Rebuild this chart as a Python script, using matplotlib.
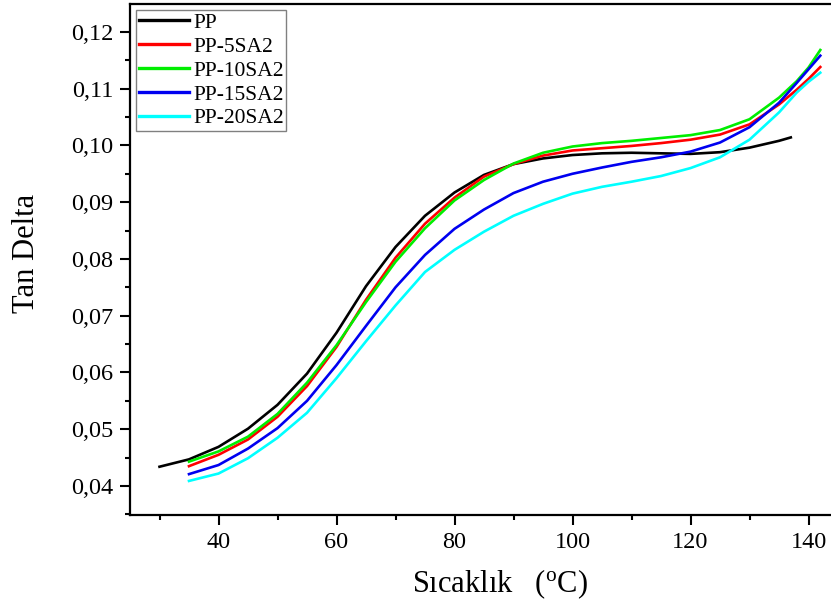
import matplotlib
matplotlib.use("Agg")
import matplotlib.pyplot as plt
from matplotlib.ticker import MultipleLocator, FuncFormatter

plt.rcParams['font.family'] = ['Liberation Serif', 'DejaVu Serif']
plt.rcParams['mathtext.fontset'] = 'custom'
plt.rcParams['mathtext.rm'] = 'Liberation Serif'

# ---- data ----
temp_pp = [30, 35, 40, 45, 50, 55, 60, 65, 70, 75, 80, 85, 90, 95, 100,
           105, 110, 115, 120, 125, 130, 135, 137]
tan_pp = [0.0434, 0.0447, 0.0469, 0.0501, 0.0543, 0.0598, 0.0670, 0.0752,
          0.0821, 0.0876, 0.0917, 0.0948, 0.0967, 0.0977, 0.0983, 0.0986,
          0.0987, 0.0986, 0.0985, 0.0988, 0.0996, 0.1008, 0.1014]

temp_sa = [35, 40, 45, 50, 55, 60, 65, 70, 75, 80, 85, 90, 95, 100, 105,
           110, 115, 120, 125, 130, 135, 138, 140, 142]
tan_5sa2 = [0.0435, 0.0455, 0.0482, 0.0522, 0.0576, 0.0645, 0.0728, 0.0802,
            0.0862, 0.0908, 0.0945, 0.0967, 0.0982, 0.0991, 0.0995, 0.0999,
            0.1004, 0.1010, 0.1019, 0.1037, 0.1072, 0.1098, 0.1117, 0.1138]
tan_10sa2 = [0.0443, 0.0461, 0.0487, 0.0527, 0.0582, 0.0648, 0.0724, 0.0795,
             0.0854, 0.0903, 0.0939, 0.0968, 0.0987, 0.0998, 0.1004, 0.1008,
             0.1013, 0.1018, 0.1027, 0.1046, 0.1084, 0.1113, 0.1137, 0.1168]
tan_15sa2 = [0.0421, 0.0437, 0.0466, 0.0502, 0.0550, 0.0613, 0.0682, 0.0750,
             0.0807, 0.0853, 0.0887, 0.0916, 0.0936, 0.0950, 0.0961, 0.0971,
             0.0979, 0.0989, 0.1005, 0.1032, 0.1075, 0.1110, 0.1134, 0.1158]
tan_20sa2 = [0.0409, 0.0422, 0.0449, 0.0485, 0.0529, 0.0590, 0.0655, 0.0718,
             0.0777, 0.0816, 0.0848, 0.0876, 0.0897, 0.0915, 0.0927, 0.0936,
             0.0946, 0.0960, 0.0979, 0.1010, 0.1058, 0.1093, 0.1112, 0.1128]

labels = ['PP', 'PP-5SA2', 'PP-10SA2', 'PP-15SA2', 'PP-20SA2']
colors = ['#000000', '#ff0000', '#00ee00', '#0000f0', '#00ffff']

fig = plt.figure(figsize=(8.31, 6.08), dpi=100)
ax = fig.add_axes([130 / 831, 93 / 608, 708 / 831, 511 / 608])

series = [(temp_pp, tan_pp), (temp_sa, tan_5sa2), (temp_sa, tan_10sa2),
          (temp_sa, tan_15sa2), (temp_sa, tan_20sa2)]
for (xs, ys), lab, col in zip(series, labels, colors):
    ax.plot(xs, ys, color=col, lw=1.9, label=lab)

ax.set_xlim(25, 145)
ax.set_ylim(0.0349, 0.1249)
ax.xaxis.set_major_locator(MultipleLocator(20))
ax.xaxis.set_minor_locator(MultipleLocator(10))
ax.yaxis.set_major_locator(MultipleLocator(0.01))
ax.yaxis.set_minor_locator(MultipleLocator(0.005))
ax.yaxis.set_major_formatter(FuncFormatter(lambda v, p: f"{v:.2f}".replace('.', ',')))

for s in ax.spines.values():
    s.set_linewidth(1.6)
ax.tick_params(which='major', direction='out', length=7, width=1.5,
               labelsize=17.5, pad=5, top=False, right=False)
ax.tick_params(which='minor', direction='out', length=3.5, width=1.5,
               top=False, right=False)

fig.text(500 / 831, 1 - 584 / 608, 'Sıcaklık   ($\\mathregular{^o}$C)',
         fontsize=22, ha='center', va='center')
fig.text(27 / 831, 1 - 253 / 608, 'Tan Delta', rotation=90,
         fontsize=22, ha='center', va='center')

leg = ax.legend(loc='upper left', fontsize=15.5, frameon=True, fancybox=False,
                edgecolor='#808080', framealpha=1, handlelength=2.35,
                handletextpad=0.2, labelspacing=0.18, borderpad=0.1,
                borderaxespad=0.3)
leg.get_frame().set_linewidth(1.0)
for h in leg.get_lines():
    h.set_linewidth(2.4)

fig.savefig('out.png', dpi=100)
